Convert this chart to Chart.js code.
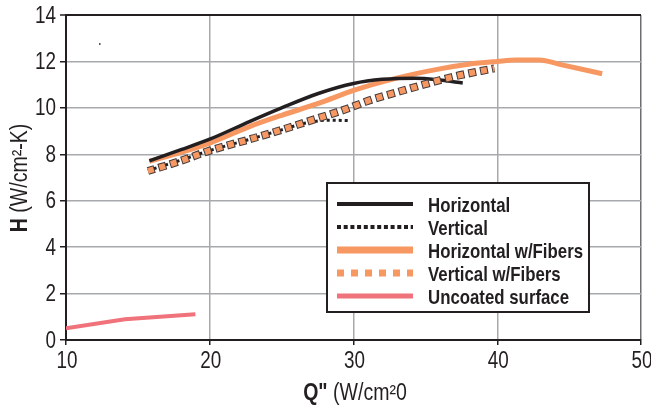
<!DOCTYPE html>
<html><head><meta charset="utf-8">
<script src="https://cdn.jsdelivr.net/npm/chart.js@4"></script>
<style>html,body{margin:0;padding:0;background:#fff}#wrap{width:651px;height:407px;position:relative}</style>
</head><body>
<div id="wrap"><canvas id="c"></canvas></div>
<script>
const xTicks = [10, 20, 30, 40, 50];
const yTicks = [0, 2, 4, 6, 8, 10, 12, 14];
const seriesNames = ['Horizontal', 'Vertical', 'Horizontal w/Fibers', 'Vertical w/Fibers', 'Uncoated surface'];
const xTitleBold = 'Q"';
const xTitleRest = ' (W/cm\u00B20';
const yTitleBold = 'H';
const yTitleRest = ' (W/cm\u00B2-K)';

const horizQ = [15.8, 18, 20, 22.8, 25, 27.6, 30, 32, 34.3, 36, 37.6];
const horizH = [7.72, 8.2, 8.65, 9.42, 10.0, 10.63, 11.05, 11.23, 11.28, 11.2, 11.07];
const vertQ = [15.7, 18, 20, 22.8, 25, 26.7, 28.3, 29.8];
const vertH = [7.3, 7.75, 8.16, 8.65, 9.05, 9.35, 9.47, 9.45];
const horizFibQ = [15.8, 18, 20, 22.8, 25, 27.6, 30, 33, 36, 38, 40, 41.3, 42.9, 44.5, 47.3];
const horizFibH = [7.7, 8.08, 8.48, 9.2, 9.68, 10.2, 10.75, 11.28, 11.68, 11.88, 12.0, 12.06, 12.06, 11.85, 11.47];
const vertFibQ = [15.7, 18, 20, 22.8, 25, 27, 29.5, 31, 33, 35, 37, 39.8];
const vertFibH = [7.28, 7.72, 8.16, 8.65, 9.05, 9.45, 9.95, 10.3, 10.67, 11.02, 11.35, 11.7];
const uncoatedQ = [10, 14.1, 19];
const uncoatedH = [0.5, 0.89, 1.11];
const strayQ = [12.35];
const strayH = [12.75];

const pts = (xs, ys) => xs.map((x, i) => ({x, y: ys[i]}));
const FAM = '"Liberation Sans",Arial,Helvetica,sans-serif';
const NARROW = 0.82;
const INK = '#231f20';
const ORANGE = '#f79863';
const PINK = '#f0727a';
const GRID = '#a7a9ac';

const base = {pointRadius: 0, pointHoverRadius: 0, fill: false, cubicInterpolationMode: 'monotone', borderCapStyle: 'butt'};

const datasets = [
  Object.assign({}, base, {label: seriesNames[0], data: pts(horizQ, horizH), borderColor: INK, borderWidth: 3.5, order: 4,
    legendStyle: {color: INK, width: 4, dash: []}}),
  Object.assign({}, base, {label: seriesNames[1], data: pts(vertQ, vertH), borderColor: INK, borderWidth: 3, borderDash: [3, 3], order: 3,
    legendStyle: {color: INK, width: 4, dash: [4, 2.7]}}),
  Object.assign({}, base, {label: seriesNames[2], data: pts(horizFibQ, horizFibH), borderColor: ORANGE, borderWidth: 5, order: 5,
    legendStyle: {color: ORANGE, width: 7, dash: []}}),
  Object.assign({}, base, {label: '', data: pts(vertFibQ, vertFibH), borderColor: '#453b3b', borderWidth: 8, borderDash: [8, 4], borderDashOffset: 1, order: 2}),
  Object.assign({}, base, {label: seriesNames[3], data: pts(vertFibQ, vertFibH), borderColor: ORANGE, borderWidth: 6, borderDash: [6, 6], order: 1,
    legendStyle: {color: ORANGE, width: 7, dash: [7, 7]}}),
  Object.assign({}, base, {label: seriesNames[4], data: pts(uncoatedQ, uncoatedH), borderColor: PINK, borderWidth: 4, tension: 0, cubicInterpolationMode: 'default', order: 1,
    legendStyle: {color: PINK, width: 5, dash: []}}),
  {type: 'scatter', label: '', data: pts(strayQ, strayH), pointRadius: 1.1, pointStyle: 'rect', backgroundColor: INK, borderColor: INK, borderWidth: 0, showLine: false, order: 0}
];

function narrowText(ctx, t, x, y, align, weight, size) {
  ctx.save();
  ctx.font = weight + ' ' + size + 'px ' + FAM;
  ctx.textAlign = align;
  ctx.textBaseline = 'alphabetic';
  ctx.translate(x, y);
  ctx.scale(NARROW, 1);
  ctx.fillText(t, 0, 0);
  ctx.restore();
}

function drawMixed(ctx, parts, cx, baseY, size, sx) {
  let total = 0;
  const widths = parts.map(([t, w]) => { ctx.font = w + ' ' + size + 'px ' + FAM; const m = ctx.measureText(t).width * sx; total += m; return m; });
  let x = cx - total / 2;
  parts.forEach(([t, w], i) => {
    ctx.save();
    ctx.font = w + ' ' + size + 'px ' + FAM;
    ctx.textAlign = 'left';
    ctx.textBaseline = 'alphabetic';
    ctx.translate(x, baseY);
    ctx.scale(sx, 1);
    ctx.fillText(t, 0, 0);
    ctx.restore();
    x += widths[i];
  });
}

const decor = {
  id: 'decor',
  afterDraw(chart) {
    const ctx = chart.ctx;
    const xs = chart.scales.x, ys = chart.scales.y;
    ctx.save();
    ctx.fillStyle = INK;
    // tick labels
    xTicks.forEach(v => narrowText(ctx, String(v), xs.getPixelForValue(v) + 1, 368, 'center', 'normal', 23));
    yTicks.forEach(v => narrowText(ctx, String(v), 56, ys.getPixelForValue(v) + 7.5, 'right', 'normal', 23));
    // axis titles
    drawMixed(ctx, [[xTitleBold, 'bold'], [xTitleRest, 'normal']], 355, 400, 23, 0.85);
    ctx.save();
    ctx.translate(19, 178);
    ctx.rotate(-Math.PI / 2);
    drawMixed(ctx, [[yTitleBold, 'bold'], [yTitleRest, 'normal']], 0, 8, 23, 0.85);
    ctx.restore();

    // legend box
    const bx = 327, by = 183, bw = 262, bh = 129;
    ctx.fillStyle = '#fff';
    ctx.fillRect(bx, by, bw, bh);
    ctx.lineWidth = 2;
    ctx.strokeStyle = INK;
    ctx.strokeRect(bx, by, bw, bh);
    const entries = chart.data.datasets.filter(d => d.legendStyle);
    entries.forEach((d, i) => {
      const y = 204 + i * 23;
      const s = d.legendStyle;
      ctx.beginPath();
      ctx.setLineDash(s.dash);
      ctx.lineWidth = s.width;
      ctx.strokeStyle = s.color;
      ctx.lineCap = 'butt';
      ctx.moveTo(337, y);
      ctx.lineTo(413, y);
      ctx.stroke();
      ctx.setLineDash([]);
      ctx.fillStyle = INK;
      narrowText(ctx, d.label, 428, y + 7.5, 'left', 'bold', 20.5);
    });
    ctx.restore();
  }
};

new Chart(document.getElementById('c'), {
  type: 'line',
  data: {datasets},
  plugins: [decor],
  options: {
    responsive: true,
    maintainAspectRatio: false,
    animation: false,
    devicePixelRatio: 1,
    layout: {padding: {top: 15, right: 10, left: 0, bottom: 0}},
    plugins: {legend: {display: false}, tooltip: {enabled: false}},
    scales: {
      x: {
        type: 'linear', min: 10, max: 50,
        afterBuildTicks: s => { s.ticks = xTicks.map(v => ({value: v})); },
        ticks: {display: false},
        grid: {color: c => (c.tick && c.tick.value === 50) ? '#6d6e71' : GRID, lineWidth: 1.5, tickLength: 5, tickColor: INK, tickWidth: 1.5},
        border: {color: INK, width: 2},
        afterFit: s => { s.height = 67; }
      },
      y: {
        type: 'linear', min: 0, max: 14,
        afterBuildTicks: s => { s.ticks = yTicks.map(v => ({value: v})); },
        ticks: {display: false},
        grid: {color: c => (c.tick && c.tick.value === 14) ? INK : GRID, lineWidth: c => (c.tick && c.tick.value === 14) ? 2 : 1.5, tickLength: 6, tickColor: INK, tickWidth: 1.5},
        border: {color: INK, width: 2},
        afterFit: s => { s.width = 66; }
      }
    }
  }
});
</script>
</body></html>
